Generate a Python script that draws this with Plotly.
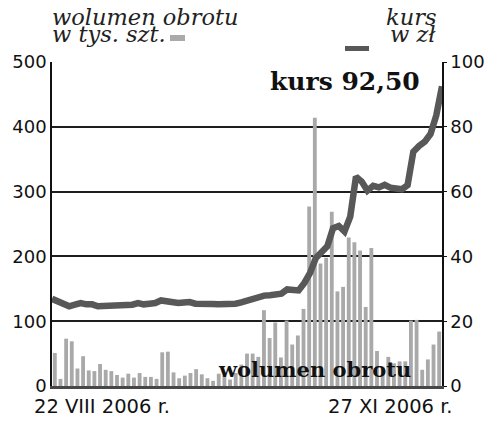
import plotly.graph_objects as go

# --- data (69 sessions, 22 VIII - 27 XI 2006) ---
sesja = list(range(69))

wolumen = [51, 11, 73, 69, 27, 46, 24, 23, 34, 25,
           23, 17, 13, 19, 13, 20, 14, 14, 11, 52,
           53, 21, 12, 16, 20, 26, 18, 12, 8, 19,
           16, 10, 20, 33, 50, 50, 45, 117, 74, 98,
           44, 101, 64, 78, 119, 277, 414, 189, 198, 269,
           146, 153, 229, 222, 209, 122, 213, 54, 30, 45,
           35, 38, 38, 101, 102, 25, 41, 64, 84]

kurs = [26.9, 26.2, 25.1, 24.6, 25.1, 25.6, 25.2, 25.2, 24.6, 24.6,
        24.8, 24.8, 24.9, 25.1, 25.1, 25.6, 25.2, 25.4, 25.6, 26.4,
        26.1, 25.6, 25.6, 25.8, 25.9, 25.4, 25.2, 25.4, 25.3, 25.2,
        25.2, 25.2, 25.4, 25.8, 26.4, 26.9, 27.2, 27.9, 28.0, 28.5,
        28.5, 29.8, 29.8, 29.5, 31.8, 34.9, 39.5, 41.0, 43.1, 48.7,
        49.4, 47.7, 52.3, 64.6, 63.1, 60.3, 61.8, 61.3, 62.1, 61.2,
        60.7, 60.7, 62.0, 72.3, 74.1, 75.4, 77.8, 83.5, 92.5]

left_ticks = [0, 100, 200, 300, 400, 500]
right_ticks = [0, 20, 40, 60, 80, 100]

# plot area in pixels: x 52..442, y 62..386
L, R, T, B = 52, 442, 62, 386


def px(x):
    return (x - L) / (R - L)


def py(y):
    return (B - y) / (B - T)


SANS = "DejaVu Sans"
SERIF = "DejaVu Serif"

fig = go.Figure()

fig.add_trace(go.Bar(x=sesja, y=wolumen, marker_color="#a9a9a9",
                     marker_line_width=0, showlegend=False))

fig.add_trace(go.Scatter(x=sesja, y=kurs, xaxis="x2", yaxis="y2",
                         mode="lines", line=dict(color="#585858", width=6.5),
                         showlegend=False))

fig.update_layout(
    width=500, height=430,
    margin=dict(l=L, r=500 - R, t=T, b=430 - B),
    paper_bgcolor="white", plot_bgcolor="white",
    bargap=0.32,
    xaxis=dict(range=[-0.5, 68.5], showticklabels=False, showgrid=False,
               zeroline=False, showline=True, linecolor="#474747",
               linewidth=3, ticks=""),
    xaxis2=dict(range=[0, 68], overlaying="x", visible=False),
    yaxis=dict(range=[0, 500], tickvals=left_ticks, showgrid=True,
               gridcolor="#1e1e1e", gridwidth=1.5, zeroline=False,
               showline=True, linecolor="#111", linewidth=1.5, ticks="",
               tickfont=dict(family=SANS, size=18, color="#111")),
    yaxis2=dict(range=[0, 100], tickvals=right_ticks, overlaying="y",
                side="right", showgrid=False, zeroline=False,
                showline=True, linecolor="#111", linewidth=1.5,
                ticks="outside", ticklen=3, tickcolor="#111",
                tickfont=dict(family=SANS, size=18, color="#111")),
)

ital = dict(family=SERIF, size=22.5, color="#222", style="italic")
ann = [
    dict(text="wolumen obrotu", x=px(50), y=py(17), xanchor="left", font=ital),
    dict(text="w tys. szt.", x=px(50), y=py(34), xanchor="left", font=ital),
    dict(text="kurs", x=px(438), y=py(17), xanchor="right", font=ital),
    dict(text="w zł", x=px(438), y=py(34), xanchor="right", font=ital),
    dict(text="kurs 92,50", x=px(422), y=py(81), xanchor="right",
         font=dict(family=SERIF, size=25, color="#111", weight="bold")),
    dict(text="wolumen obrotu", x=px(314), y=py(369), xanchor="center",
         font=dict(family=SERIF, size=21, color="#111", weight="bold")),
    dict(text="22 VIII 2006 r.", x=px(32), y=py(406), xanchor="left",
         font=dict(family=SANS, size=19.5, color="#111")),
    dict(text="27 XI 2006 r.", x=px(455), y=py(406), xanchor="right",
         font=dict(family=SANS, size=19.5, color="#111")),
]
for a in ann:
    fig.add_annotation(xref="paper", yref="paper", yanchor="middle",
                       showarrow=False, **a)

# legend keys
fig.add_shape(type="rect", xref="paper", yref="paper",
              x0=px(170), x1=px(185), y0=py(41), y1=py(35),
              fillcolor="#aaaaaa", line_width=0)
fig.add_shape(type="line", xref="paper", yref="paper",
              x0=px(345), x1=px(369), y0=py(48.5), y1=py(48.5),
              line=dict(color="#585858", width=5))

fig.write_html("out.html", config={"displayModeBar": False},
               post_script="document.body.style.margin='0px';")
